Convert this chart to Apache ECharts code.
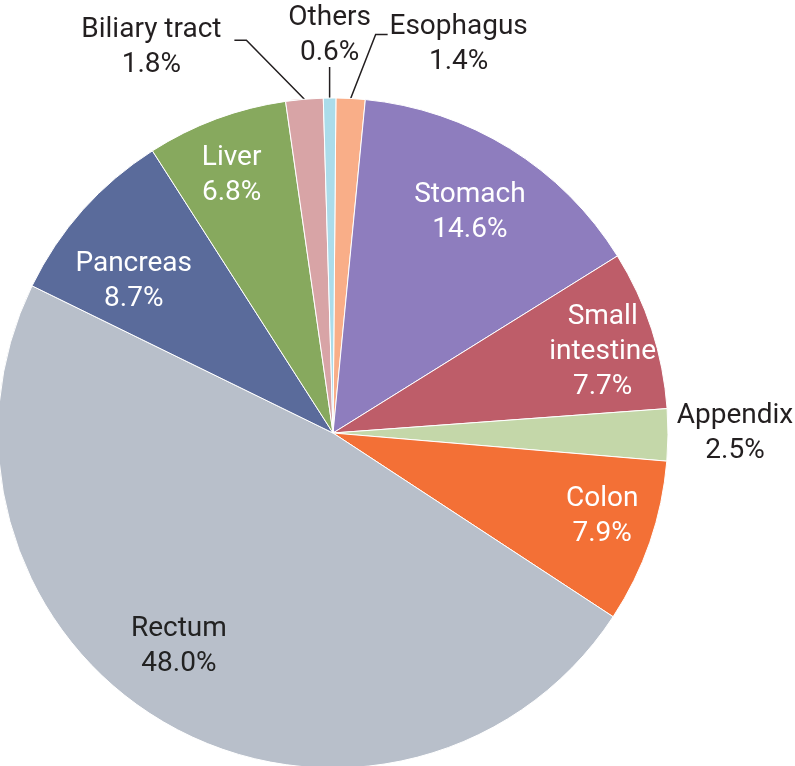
<!DOCTYPE html>
<html>
<head>
<meta charset="utf-8">
<script src="https://cdn.jsdelivr.net/npm/echarts@6/dist/echarts.min.js"></script>
<style>
  html, body { margin: 0; padding: 0; background: #fff; }
  #chart { width: 795px; height: 766px; }
</style>
</head>
<body>
<div id="chart"></div>
<script>
// sites, clockwise from 12 o'clock
const sites = ['Esophagus', 'Stomach', 'Small intestine', 'Appendix', 'Colon', 'Rectum', 'Pancreas', 'Liver', 'Biliary tract', 'Others']
const shares = [1.4, 14.6, 7.7, 2.5, 7.9, 48.0, 8.7, 6.8, 1.8, 0.6]
const colors = ['#f9ae88', '#8e7dbe', '#be5d69', '#c4d7a9', '#f37036', '#b8bfca', '#5a6b9b', '#87a95e', '#d8a4a6', '#abdcea']

const outsideSites = ['Esophagus', 'Appendix', 'Biliary tract', 'Others']

const chart = echarts.init(document.getElementById('chart'))

const font = 'Roboto, "Liberation Sans", sans-serif'
const labelText = p => p.name.replace('Small intestine', 'Small\nintestine') + '\n' + p.value.toFixed(1) + '%'

const baseData = sites.map((name, i) => ({
  name,
  value: shares[i],
  itemStyle: { color: colors[i] },
  label: { show: outsideSites.includes(name) },
  labelLine: {
    show: outsideSites.includes(name),
    lineStyle: { opacity: name === 'Appendix' ? 0 : 1 }
  }
}))

const innerData = sites.map((name, i) => ({
  name,
  value: shares[i],
  label: {
    show: !outsideSites.includes(name),
    color: name === 'Rectum' ? '#222' : '#fff'
  }
}))

// small nudges so the inner labels sit where the original put them
const innerNudge = {
  'Stomach': [-6, 10],
  'Small intestine': [12, 3],
  'Colon': [13, -5],
  'Rectum': [-20, -22],
  'Pancreas': [3, 29],
  'Liver': [-7, -3]
}

const option = {
  animation: false,
  series: [
    {
      type: 'pie',
      center: [333, 433],
      radius: 335,
      startAngle: 89.5,
      clockwise: true,
      avoidLabelOverlap: false,
      itemStyle: { borderColor: '#fff', borderWidth: 1 },
      label: {
        position: 'outside',
        formatter: labelText,
        fontFamily: font,
        fontSize: 28,
        lineHeight: 35,
        color: '#231f20',
        align: 'center'
      },
      labelLine: { length: 20, length2: 10, lineStyle: { color: '#231f20', width: 1.5 } },
      labelLayout: function (p) {
        const pts = p.labelLinePoints
        if (!pts) return {}
        const x0 = pts[0][0], y0 = pts[0][1]
        const name = sites[p.dataIndex]
        if (name === 'Esophagus') {
          return {
            x: x0 + 108, y: y0 - 54, align: 'center', verticalAlign: 'middle',
            labelLinePoints: [[x0, y0], [x0 + 25, y0 - 64], [x0 + 37, y0 - 64]]
          }
        }
        if (name === 'Others') {
          return {
            x: x0, y: y0 - 63, align: 'center', verticalAlign: 'middle',
            labelLinePoints: [[x0, y0], [x0, y0 - 16], [x0, y0 - 31]]
          }
        }
        if (name === 'Biliary tract') {
          return {
            x: x0 - 153, y: y0 - 52, align: 'center', verticalAlign: 'middle',
            labelLinePoints: [[x0, y0], [x0 - 58, y0 - 59], [x0 - 70, y0 - 59]]
          }
        }
        if (name === 'Appendix') {
          return { x: x0 + 67, y: y0 - 1, align: 'center', verticalAlign: 'middle' }
        }
        return {}
      },
      data: baseData
    },
    {
      type: 'pie',
      center: [333, 433],
      radius: [201, 335],
      startAngle: 89.5,
      clockwise: true,
      silent: true,
      avoidLabelOverlap: false,
      itemStyle: { color: 'rgba(0,0,0,0)', borderWidth: 0 },
      label: {
        position: 'inside',
        formatter: labelText,
        fontFamily: font,
        fontSize: 28,
        lineHeight: 35,
        align: 'center'
      },
      labelLine: { show: false },
      labelLayout: function (p) {
        const n = innerNudge[sites[p.dataIndex]]
        if (!n) return {}
        const r = p.labelRect
        return {
          x: r.x + r.width / 2 + n[0],
          y: r.y + r.height / 2 + n[1],
          align: 'center',
          verticalAlign: 'middle'
        }
      },
      data: innerData
    }
  ]
}

chart.setOption(option)
</script>
</body>
</html>
